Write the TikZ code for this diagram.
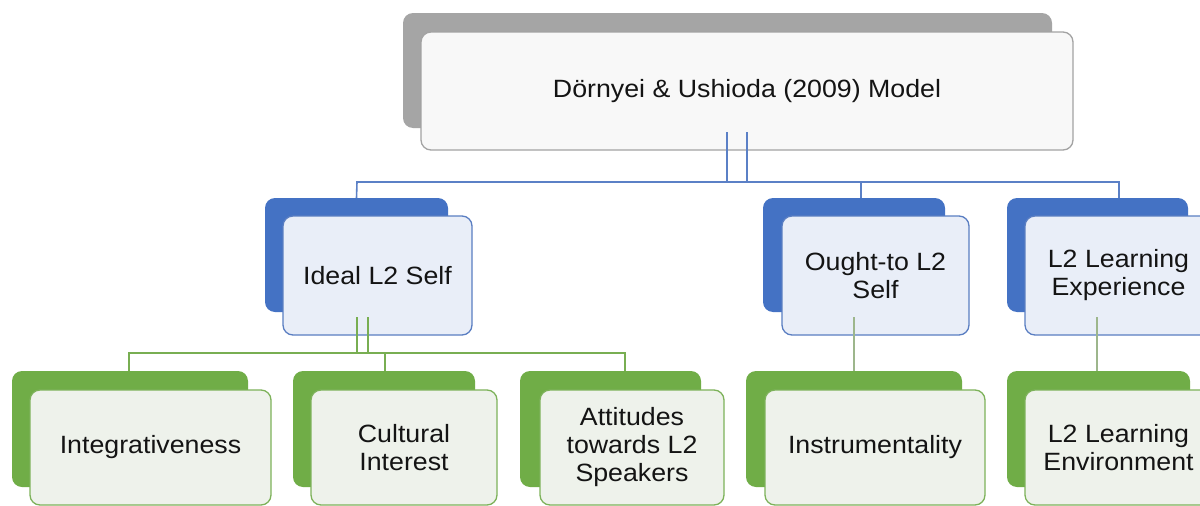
\documentclass[tikz,border=0pt]{standalone}
\usepackage{fontspec}
\setmainfont{Liberation Sans}[FakeStretch=1.07]
\definecolor{gback}{HTML}{A5A5A5}
\definecolor{gfront}{HTML}{F8F8F8}
\definecolor{gedge}{HTML}{A3A3A3}
\definecolor{bback}{HTML}{4472C4}
\definecolor{bfront}{HTML}{E9EEF8}
\definecolor{bedge}{HTML}{5A7EC2}
\definecolor{grback}{HTML}{70AD47}
\definecolor{grfront}{HTML}{EEF2EB}
\definecolor{gredge}{HTML}{7DB25A}
\definecolor{bline}{HTML}{5B80C6}
\definecolor{grline}{HTML}{78AE52}
\definecolor{ggline}{HTML}{9DB68C}
\newcommand\bx[7]{%
  \pgfmathsetmacro\cxx{(#3+#5)/2}\pgfmathsetmacro\cyy{(#4+#6)/2}%
  \pgfmathsetmacro\ww{#5-#3}\pgfmathsetmacro\hh{#6-#4}%
  \node[#2,minimum width=\ww pt,minimum height=\hh pt] (#1) at (\cxx,\cyy) {#7};}
\begin{document}
\begin{tikzpicture}[x=1pt,y=-1pt,
  box/.style={rounded corners=10pt,inner sep=0pt,outer sep=0pt,align=center,
    font=\fontsize{25}{28}\selectfont,text=black!92},
  grayback/.style={box,fill=gback},
  grayfront/.style={box,fill=gfront,draw=gedge,line width=1.3pt},
  blueback/.style={box,fill=bback},
  bluefront/.style={box,fill=bfront,draw=bedge,line width=1.3pt},
  greenback/.style={box,fill=grback},
  greenfront/.style={box,fill=grfront,draw=gredge,line width=1.3pt},
  bl/.style={draw=bline,line width=1.6pt},
  gl/.style={draw=grline,line width=1.6pt},
  ggl/.style={draw=ggline,line width=1.6pt}]
\path[use as bounding box,fill=white] (0,0) rectangle (1200,506);
% top
\bx{topb}{grayback}{403}{13}{1052}{128}{}
\bx{top}{grayfront}{421}{32}{1073}{150}{Dörnyei \& Ushioda (2009) Model}
% level 2
\bx{idb}{blueback}{265}{198}{448}{312}{}
\bx{id}{bluefront}{283}{216}{472}{335}{Ideal L2 Self}
\bx{otb}{blueback}{763}{198}{945}{312}{}
\bx{ot}{bluefront}{782}{216}{969}{335}{Ought-to L2\\Self}
\bx{leb}{blueback}{1007}{198}{1188}{312}{}
\bx{le}{bluefront}{1025}{216}{1212}{335}{L2 Learning\\Experience}
% level 3
\bx{inb}{greenback}{12}{371}{248}{487}{}
\bx{in}{greenfront}{30}{390}{271}{505}{Integrativeness}
\bx{cub}{greenback}{293}{371}{475}{487}{}
\bx{cu}{greenfront}{311}{390}{497}{505}{Cultural\\Interest}
\bx{atb}{greenback}{520}{371}{701}{487}{}
\bx{at}{greenfront}{540}{390}{724}{505}{Attitudes\\towards L2\\Speakers}
\bx{isb}{greenback}{746}{371}{962}{487}{}
\bx{is}{greenfront}{765}{390}{985}{505}{Instrumentality}
\bx{evb}{greenback}{1007}{371}{1190}{487}{}
\bx{ev}{greenfront}{1025}{390}{1212}{505}{L2 Learning\\Environment}
% blue connectors
\coordinate (ta) at (727,132);
\coordinate (tb) at (747,132);
\coordinate (hl) at (357,182);
\coordinate (hr) at (1119,182);
\coordinate (od) at (861,182);
\draw[bl] (ta) -- (ta |- hl);
\draw[bl] (tb) -- (tb |- hl);
\draw[bl] (idb.north) -- (hl) -- (hr) -- (hr |- leb.north);
\draw[bl] (od) -- (od |- otb.north);
% green connectors
\coordinate (ga) at (357,317);
\coordinate (gb) at (368,317);
\coordinate (gl) at (129,353);
\coordinate (gr) at (625,353);
\coordinate (gc) at (385,353);
\draw[gl] (ga) -- (ga |- gl);
\draw[gl] (gb) -- (gb |- gl);
\draw[gl] (gl |- inb.north) -- (gl) -- (gr) -- (gr |- atb.north);
\draw[gl] (gc) -- (gc |- cub.north);
\coordinate (oa) at (854,317);
\coordinate (la) at (1097,317);
\draw[ggl] (oa) -- (oa |- isb.north);
\draw[ggl] (la) -- (la |- evb.north);
\end{tikzpicture}
\end{document}
